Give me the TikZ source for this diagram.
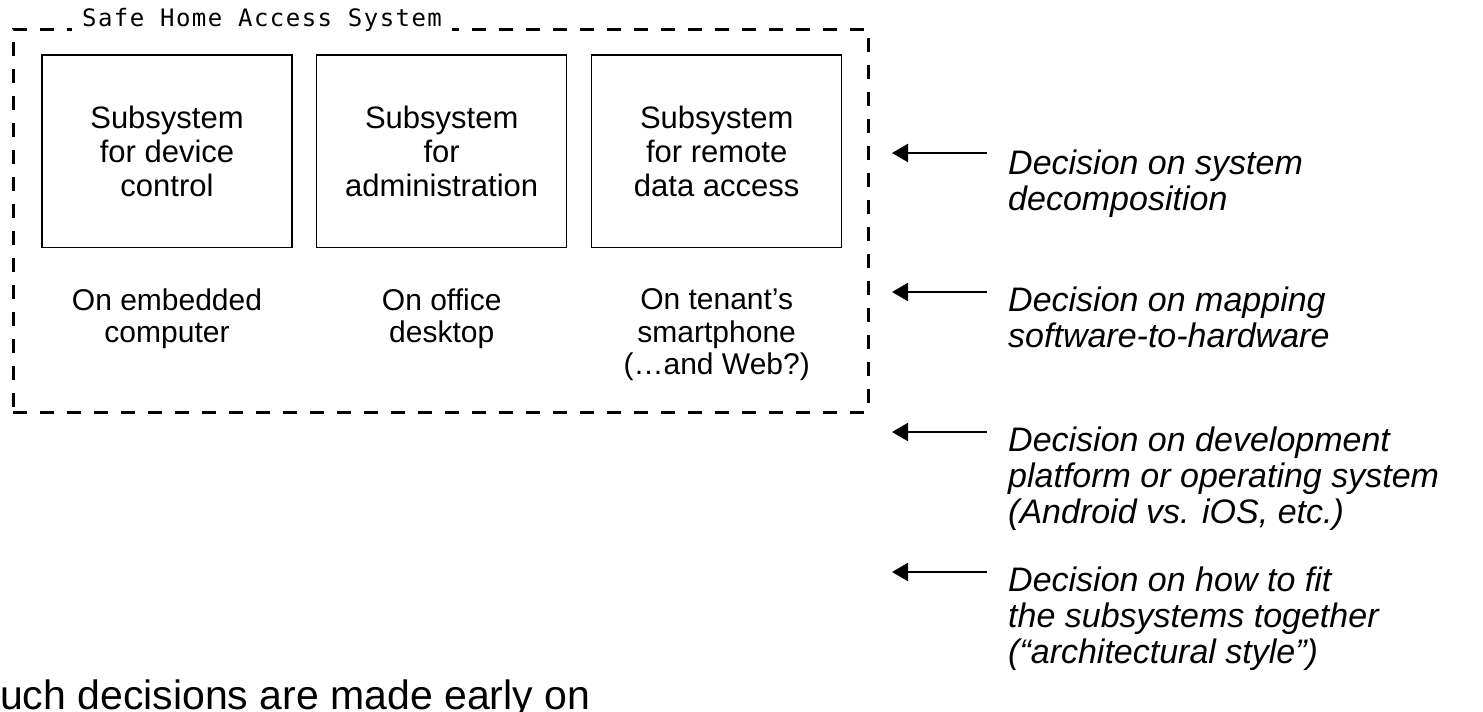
\documentclass[tikz,border=0pt]{standalone}
\usepackage{fontspec}
\setmainfont{Liberation Sans}
\newfontfamily\titlefont[LetterSpace=6]{DejaVu Sans Mono}
\usetikzlibrary{arrows.meta}
\begin{document}
\begin{tikzpicture}[x=1pt,y=-1pt,
  frame/.style={draw, line width=3pt, dash pattern=on 14pt off 13pt, inner sep=0pt},
  titlebox/.style={fill=white, inner xsep=10pt, inner ysep=3pt, anchor=base west, font=\titlefont\fontsize{24}{28}\selectfont},
  subsys/.style={draw, line width=1.5pt, minimum width=250pt, minimum height=192.5pt, inner sep=0pt, align=center, font=\fontsize{31}{34}\selectfont},
  plat/.style={inner sep=0pt, align=center, anchor=north, font=\fontsize{30}{32.5}\selectfont},
  decision/.style={inner sep=0pt, align=left, anchor=north west, font=\fontsize{34}{36}\selectfont\itshape},
  decarrow/.style={line width=2.2pt, -{Triangle[length=16pt,width=18pt]}},
  note/.style={inner sep=0pt, anchor=base west, font=\fontsize{41}{48}\selectfont},
]
\useasboundingbox (0,0) rectangle (1483,712);

% system frame and title
\node[frame, minimum width=855pt, minimum height=383pt] (sys) at (440.5,220.5) {};
\node[titlebox] (ttl) at (72,27) {Safe Home Access System};

% subsystems
\node[subsys] (b1) at (167,151.3) {Subsystem\\for device\\control};
\node[subsys] (b2) at (441.7,151.3) {Subsystem\\for\\administration};
\node[subsys] (b3) at (716.7,151.3) {Subsystem\\for remote\\data access};

% platforms
\node[plat] (p1) at (167,288.5) {On embedded\\computer};
\node[plat] (p2) at (441.7,288.5) {On office\\desktop};
\node[plat] (p3) at (716.7,288.5) {On tenant’s\\smartphone\\(…and Web?)};

% decisions
\node[decision] (d1) at (1008,149.7) {Decision on system\\decomposition};
\node[decision] (d2) at (1008,286.7) {Decision on mapping\\software-to-hardware};
\node[decision] (d3) at (1008,426.7) {Decision on development\\platform or operating system\\(Android vs. iOS, etc.)};
\node[decision] (d4) at (1008,566.7) {Decision on how to fit\\the subsystems together\\(“architectural style”)};

\coordinate (t1) at (987,153); \coordinate (h1) at (892,153);
\coordinate (t2) at (987,292); \coordinate (h2) at (892,292);
\coordinate (t3) at (987,432); \coordinate (h3) at (892,432);
\coordinate (t4) at (987,572); \coordinate (h4) at (892,572);
\draw[decarrow] (t1) -- (h1);
\draw[decarrow] (t2) -- (h2);
\draw[decarrow] (t3) -- (h3);
\draw[decarrow] (t4) -- (h4);

% bottom note (cut at the left edge)
\node[note] (n) at (-27.5,709) {Such decisions are made early on};
\end{tikzpicture}
\end{document}
